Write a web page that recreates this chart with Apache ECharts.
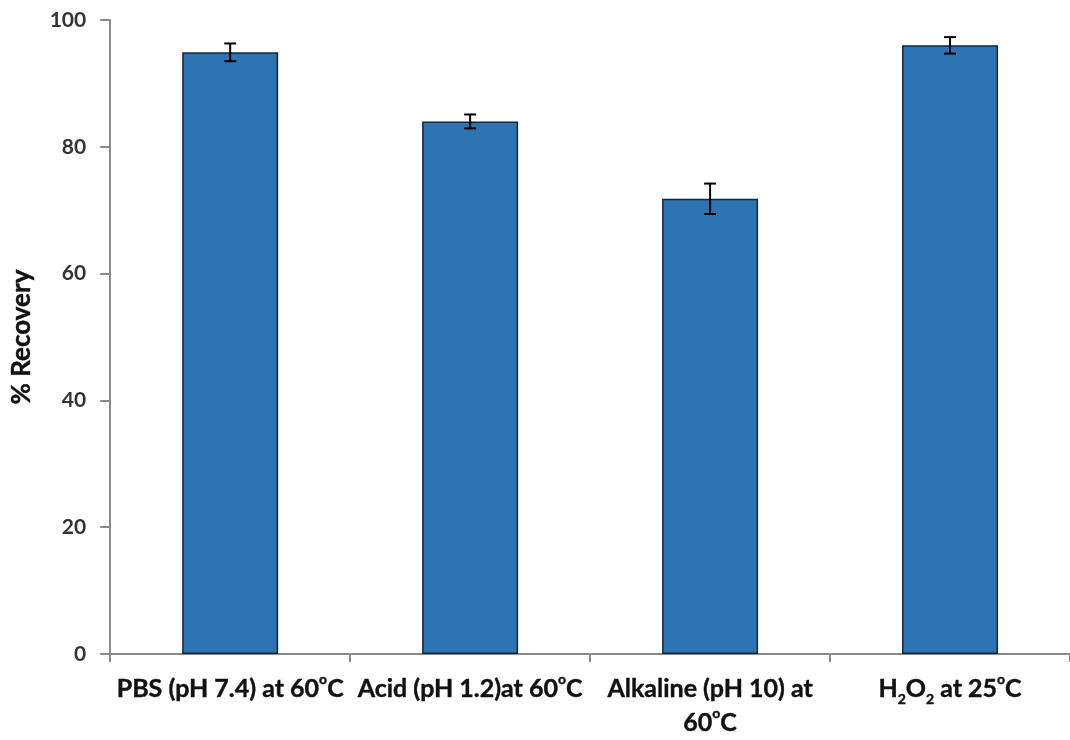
<!DOCTYPE html>
<html>
<head>
<meta charset="utf-8">
<script src="https://cdn.jsdelivr.net/npm/echarts@6/dist/echarts.min.js"></script>
<style>html,body{margin:0;padding:0;background:#fff}#c{width:1070px;height:740px}</style>
</head>
<body>
<div id="c"></div>
<script>
const categories = [
  'PBS (pH 7.4) at 60{sup|o}C',
  'Acid (pH 1.2)at 60{sup|o}C',
  'Alkaline (pH 10) at\n60{sup|o}C',
  'H{sub|2}O{sub|2} at 25{sup|o}C'
];
const recovery = [94.9, 84.0, 71.8, 96.0];
const errors = [1.4, 1.1, 2.4, 1.3];
const yTicks = { min: 0, max: 100, interval: 20 };

const chart = echarts.init(document.getElementById('c'));
const font = 'Lato, "Open Sans", sans-serif';
const errData = recovery.map((v, i) => [i, v - errors[i], v + errors[i]]);
const heavy = { textBorderColor: '#111', textBorderWidth: 0.4 };

chart.setOption({
  animation: false,
  grid: { left: 110, right: 0, top: 20, bottom: 81, containLabel: false },
  xAxis: {
    type: 'category',
    data: categories,
    axisLine: { lineStyle: { color: '#8a8a8a', width: 2 } },
    axisTick: { show: true, length: 8, lineStyle: { color: '#8a8a8a', width: 2 } },
    axisLabel: Object.assign({
      interval: 0, margin: 18, color: '#111', fontWeight: 'bold', fontSize: 25,
      fontFamily: font, lineHeight: 34,
      rich: {
        sup: Object.assign({ fontSize: 14, fontWeight: 'bold', verticalAlign: 'top', lineHeight: 24, color: '#111', fontFamily: font }, heavy),
        sub: Object.assign({ fontSize: 14, fontWeight: 'bold', verticalAlign: 'bottom', lineHeight: 22, color: '#111', fontFamily: font }, heavy)
      }
    }, heavy)
  },
  yAxis: {
    type: 'value', min: yTicks.min, max: yTicks.max, interval: yTicks.interval,
    name: '% Recovery', nameLocation: 'middle', nameGap: 76, nameRotate: 90,
    nameTextStyle: Object.assign({ color: '#111', fontWeight: 'bold', fontSize: 26, fontFamily: font }, heavy),
    axisLine: { show: true, lineStyle: { color: '#8a8a8a', width: 2 } },
    axisTick: { show: true, length: 10, lineStyle: { color: '#8a8a8a', width: 2 } },
    splitLine: { show: false },
    axisLabel: { margin: 24, color: '#333', fontWeight: 'bold', fontSize: 21, fontFamily: font }
  },
  series: [
    {
      type: 'bar', data: recovery, barWidth: '40%',
      itemStyle: { color: '#2E74B2', borderColor: '#15253a', borderWidth: 1.5 }
    },
    {
      type: 'custom', data: errData, z: 10,
      renderItem: function (params, api) {
        const x = api.value(0);
        const lo = api.coord([x, api.value(1)]);
        const hi = api.coord([x, api.value(2)]);
        const hw = 6;
        const st = { stroke: '#000', lineWidth: 2 };
        return {
          type: 'group',
          children: [
            { type: 'line', shape: { x1: hi[0], y1: hi[1], x2: lo[0], y2: lo[1] }, style: st },
            { type: 'line', shape: { x1: hi[0] - hw, y1: hi[1], x2: hi[0] + hw, y2: hi[1] }, style: st },
            { type: 'line', shape: { x1: lo[0] - hw, y1: lo[1], x2: lo[0] + hw, y2: lo[1] }, style: st }
          ]
        };
      }
    }
  ]
});
</script>
</body>
</html>
